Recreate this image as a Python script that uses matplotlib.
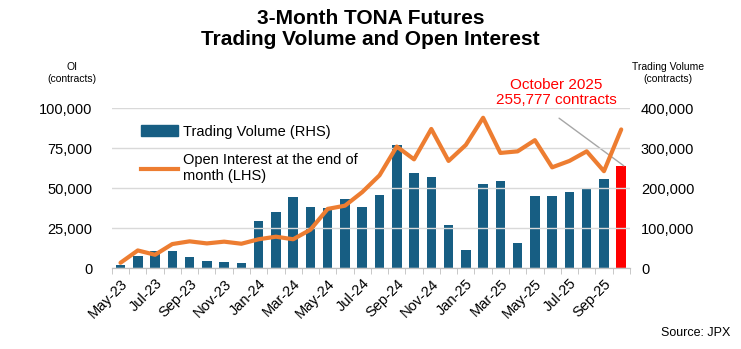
import numpy as np
import matplotlib.pyplot as plt
from matplotlib.ticker import FuncFormatter
from matplotlib.patches import Patch
from matplotlib.lines import Line2D

plt.rcParams['font.family'] = ['Liberation Sans', 'DejaVu Sans']

months = ['May-23', 'Jun-23', 'Jul-23', 'Aug-23', 'Sep-23', 'Oct-23', 'Nov-23', 'Dec-23',
          'Jan-24', 'Feb-24', 'Mar-24', 'Apr-24', 'May-24', 'Jun-24', 'Jul-24', 'Aug-24',
          'Sep-24', 'Oct-24', 'Nov-24', 'Dec-24', 'Jan-25', 'Feb-25', 'Mar-25', 'Apr-25',
          'May-25', 'Jun-25', 'Jul-25', 'Aug-25', 'Sep-25', 'Oct-25']

# trading volume (RHS), contracts
volume = [7500, 31000, 42000, 42000, 28000, 18000, 15000, 13000,
          117000, 140000, 177000, 152000, 151000, 172000, 152000, 182000,
          307000, 237000, 228000, 107000, 45000, 210000, 218000, 62000,
          180000, 180000, 190000, 197000, 222000, 255777]

# open interest at month end (LHS), contracts
oi = [3300, 11000, 8300, 15000, 16700, 15400, 16500, 15200,
      18000, 19600, 18000, 24000, 37000, 39000, 47500, 58000,
      76000, 68000, 87000, 67000, 77000, 94000, 72000, 73000,
      80000, 63000, 67000, 73000, 60600, 86700]

x = np.arange(len(months))
fmt = FuncFormatter(lambda v, p: f'{int(v):,}')

fig = plt.figure(figsize=(7.41, 3.49), dpi=100)
ax = fig.add_axes([0.151, 0.232, 0.699, 0.458])
ax2 = ax.twinx()

bar_colors = ['#175e83'] * (len(months) - 1) + ['#ff0000']
ax2.bar(x, volume, width=0.55, color=bar_colors, zorder=2)
ax2.set_ylim(0, 400000)
ax2.set_yticks(np.arange(0, 400001, 100000))
ax2.yaxis.set_major_formatter(fmt)

ax.plot(x, oi, color='#ed7d31', linewidth=3, zorder=3, solid_capstyle='round')
ax.set_ylim(0, 100000)
ax.set_yticks(np.arange(0, 100001, 25000))
ax.yaxis.set_major_formatter(fmt)
ax.set_xlim(-0.5, len(months) - 0.5)
ax.set_zorder(ax2.get_zorder() + 1)
ax.patch.set_visible(False)

ax.grid(axis='y', color='#d9d9d9', linewidth=1)
ax.set_axisbelow(True)

ax.set_xticks(x[::2])
ax.set_xticklabels(months[::2], rotation=45, ha='right', rotation_mode='anchor', fontsize=10.5)
ax.set_xticks(np.arange(-0.5, len(months), 1), minor=True)
ax.tick_params(axis='x', which='major', length=0, pad=6)
ax.tick_params(axis='x', which='minor', length=4, color='#bfbfbf')
ax.tick_params(axis='y', length=0, labelsize=10.5, pad=14)
ax2.tick_params(axis='y', length=0, labelsize=10.5, pad=8)

for a in (ax, ax2):
    for s in ['top', 'left', 'right']:
        a.spines[s].set_visible(False)
    a.spines['bottom'].set_color('#bfbfbf')

# legend
handles = [Patch(color='#175e83'), Line2D([0], [0], color='#ed7d31', lw=3)]
ax.legend(handles, ['Trading Volume (RHS)', 'Open Interest at the end of\nmonth (LHS)'],
          loc='upper left', bbox_to_anchor=(0.03, 0.98), frameon=False, fontsize=10.5,
          handlelength=2.6, labelspacing=1.0, handletextpad=0.3)

fig.text(0.5, 0.975, '3-Month TONA Futures\nTrading Volume and Open Interest',
         ha='center', va='top', fontsize=15, fontweight='bold', linespacing=1.15)
fig.text(0.097, 0.79, 'OI\n(contracts)', ha='center', va='center', fontsize=7.5)
fig.text(0.902, 0.79, 'Trading Volume\n(contracts)', ha='center', va='center', fontsize=7.5)
fig.text(0.985, 0.03, 'Source: JPX', ha='right', va='bottom', fontsize=9)

# callout for the latest month
ax2.text(25.25, 403000, 'October 2025\n255,777 contracts', ha='center', va='bottom',
         color='#ff0000', fontsize=11, linespacing=1.1)
ax2.annotate('', xy=(29.15, volume[-1]), xytext=(25.4, 375000),
             arrowprops=dict(arrowstyle='-', color='#a6a6a6', lw=1, shrinkA=0, shrinkB=0))

fig.savefig('out.png', dpi=100)
